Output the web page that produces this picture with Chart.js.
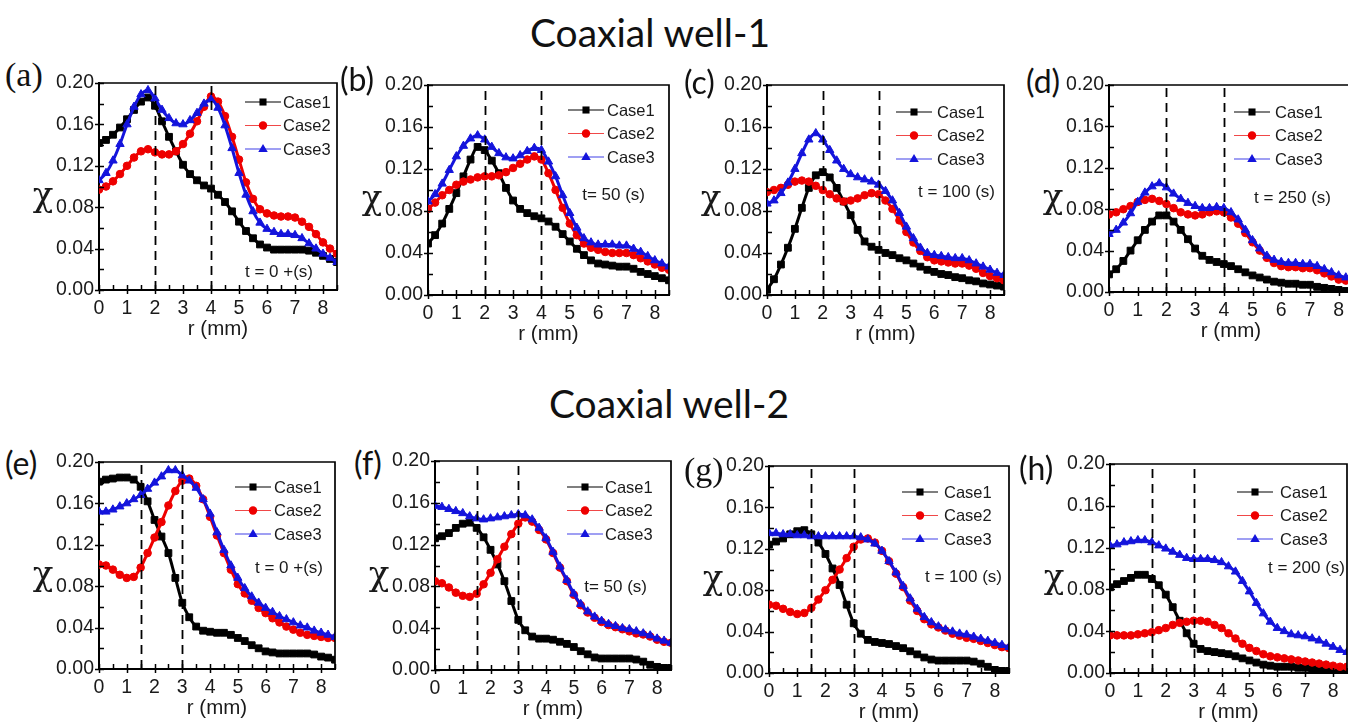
<!DOCTYPE html>
<html>
<head>
<meta charset="utf-8">
<title>Coaxial well profiles</title>
<script src="https://cdn.jsdelivr.net/npm/chart.js@4.4.0/dist/chart.umd.min.js"></script>
<style>
  body { margin: 0; width: 1348px; height: 726px; overflow: hidden; background: #fff; position: relative; }
  .title { position: absolute; font-family: Lato, "Open Sans", sans-serif; font-size: 39px; color: #111; transform: translate(-50%, -50%); white-space: nowrap; }
  .tag { position: absolute; font-family: Lato, "Open Sans", sans-serif; font-size: 32px; color: #111; transform: translateY(-50%); white-space: nowrap; }
  .tag.serif { font-family: "Liberation Serif", serif; font-size: 34px; }
  canvas { position: absolute; }
</style>
</head>
<body>
<div class="title" style="left:650px;top:32px">Coaxial well-1</div>
<div class="title" style="left:669px;top:403px">Coaxial well-2</div>

<script>
// radial positions (mm), shared by every panel
const r = [0, 0.25, 0.5, 0.75, 1, 1.25, 1.5, 1.75, 2, 2.25, 2.5, 2.75, 3, 3.25, 3.5, 3.75, 4, 4.25,
           4.5, 4.75, 5, 5.25, 5.5, 5.75, 6, 6.25, 6.5, 6.75, 7, 7.25, 7.5, 7.75, 8, 8.25, 8.5];
const caseNames = ['Case1', 'Case2', 'Case3'];
const yTicks = [0, 0.04, 0.08, 0.12, 0.16, 0.20];
const well1Walls = [2, 4];
const well2Walls = [1.5, 3];

// Coaxial well-1
const aCase1 = [.142,.145,.150,.157,.165,.174,.182,.186,.178,.163,.148,.134,.121,.112,.106,.101,.098,.092,.085,.076,.066,.057,.050,.044,.041,.039,.039,.039,.039,.039,.038,.036,.033,.030,.027];
const aCase2 = [.097,.100,.105,.112,.120,.128,.134,.136,.133,.131,.131,.134,.141,.151,.163,.177,.187,.182,.168,.148,.126,.104,.088,.078,.074,.072,.071,.071,.070,.066,.061,.054,.046,.040,.035];
const aCase3 = [.106,.113,.125,.141,.160,.177,.189,.193,.185,.174,.166,.161,.160,.164,.171,.180,.184,.176,.159,.137,.113,.092,.076,.065,.059,.056,.054,.054,.053,.050,.045,.040,.035,.031,.027];

const bCase1 = [.049,.057,.068,.082,.097,.113,.129,.141,.138,.128,.116,.102,.090,.082,.078,.075,.073,.070,.065,.058,.051,.044,.038,.033,.030,.029,.028,.027,.027,.025,.022,.020,.018,.016,.014];
const bCase2 = [.082,.088,.095,.100,.105,.108,.110,.112,.113,.113,.114,.117,.121,.125,.129,.132,.129,.116,.100,.083,.068,.057,.049,.045,.043,.041,.040,.040,.040,.038,.035,.032,.029,.026,.024];
const bCase3 = [.089,.096,.106,.119,.132,.142,.149,.152,.148,.141,.135,.131,.130,.133,.137,.140,.138,.127,.113,.095,.078,.064,.054,.050,.048,.048,.048,.047,.047,.044,.041,.037,.033,.030,.027];

const cCase1 = [.005,.015,.029,.045,.063,.083,.102,.114,.117,.112,.102,.089,.076,.062,.051,.046,.043,.040,.038,.035,.033,.030,.027,.024,.022,.020,.019,.017,.016,.014,.013,.011,.010,.009,.008];
const cCase2 = [.098,.100,.102,.105,.108,.109,.108,.104,.100,.096,.092,.089,.090,.092,.095,.097,.096,.090,.082,.071,.060,.050,.042,.036,.033,.032,.031,.030,.030,.028,.025,.021,.018,.016,.014];
const cCase3 = [.087,.090,.097,.107,.120,.135,.148,.154,.148,.138,.128,.120,.115,.112,.110,.108,.105,.099,.090,.078,.065,.054,.045,.040,.038,.037,.036,.035,.035,.033,.030,.027,.024,.021,.019];

const dCase1 = [.017,.022,.030,.040,.050,.060,.068,.074,.074,.068,.060,.051,.042,.035,.031,.029,.027,.025,.022,.019,.016,.014,.012,.010,.009,.008,.008,.007,.007,.005,.004,.003,.002,.001,.001];
const dCase2 = [.075,.077,.080,.083,.087,.089,.090,.088,.085,.081,.077,.075,.074,.075,.077,.078,.077,.072,.066,.057,.048,.040,.033,.028,.025,.024,.024,.023,.023,.021,.018,.015,.012,.011,.010];
const dCase3 = [.056,.060,.067,.076,.087,.096,.102,.105,.101,.095,.090,.086,.083,.081,.081,.082,.081,.077,.070,.060,.050,.042,.035,.031,.029,.028,.028,.027,.027,.025,.022,.019,.016,.014,.012];

// Coaxial well-2
const eCase1 = [.181,.183,.184,.185,.185,.183,.176,.162,.144,.128,.112,.088,.064,.050,.041,.037,.036,.035,.035,.033,.030,.027,.023,.020,.017,.016,.015,.015,.015,.015,.015,.014,.012,.011,.009];
const eCase2 = [.101,.100,.096,.091,.088,.089,.098,.112,.127,.142,.158,.172,.182,.184,.177,.164,.147,.129,.112,.096,.082,.073,.066,.059,.054,.049,.045,.041,.038,.035,.033,.032,.031,.030,.030];
const eCase3 = [.152,.152,.154,.157,.160,.164,.168,.174,.180,.186,.192,.192,.187,.182,.175,.164,.150,.132,.115,.100,.088,.078,.070,.064,.059,.055,.051,.048,.045,.042,.040,.037,.035,.033,.031];

const fCase1 = [.126,.128,.131,.136,.140,.141,.136,.127,.115,.101,.085,.066,.048,.038,.032,.030,.030,.029,.027,.025,.022,.018,.015,.012,.011,.011,.011,.011,.011,.010,.008,.005,.003,.002,.002];
const fCase2 = [.085,.083,.079,.074,.071,.070,.073,.082,.093,.106,.118,.130,.140,.146,.142,.134,.125,.112,.098,.085,.072,.062,.055,.050,.046,.043,.041,.039,.037,.035,.034,.032,.029,.027,.026];
const fCase3 = [.157,.156,.154,.152,.150,.147,.145,.144,.145,.146,.147,.148,.149,.148,.144,.136,.126,.113,.099,.086,.073,.063,.056,.051,.047,.044,.042,.040,.039,.037,.035,.033,.030,.028,.026];

const gCase1 = [.124,.127,.130,.134,.137,.138,.134,.126,.115,.101,.085,.066,.048,.038,.032,.030,.029,.028,.026,.024,.021,.018,.015,.013,.012,.012,.012,.012,.012,.011,.009,.006,.003,.002,.002];
const gCase2 = [.066,.065,.062,.059,.057,.058,.063,.071,.080,.090,.100,.111,.122,.129,.130,.126,.118,.108,.096,.083,.070,.060,.052,.047,.044,.041,.038,.036,.034,.033,.031,.029,.027,.025,.024];
const gCase3 = [.135,.135,.134,.134,.133,.133,.132,.132,.132,.132,.132,.132,.132,.131,.129,.125,.118,.108,.097,.084,.072,.062,.054,.049,.045,.042,.040,.038,.037,.035,.033,.031,.029,.027,.025];

const hCase1 = [.082,.085,.088,.091,.094,.094,.090,.084,.075,.063,.050,.038,.028,.023,.021,.020,.019,.018,.016,.014,.012,.010,.008,.007,.006,.006,.006,.005,.005,.004,.003,.002,.001,.000,.000];
const hCase2 = [.036,.036,.036,.036,.037,.038,.039,.041,.043,.046,.048,.049,.050,.050,.049,.046,.043,.038,.033,.028,.024,.021,.018,.016,.015,.014,.013,.012,.011,.010,.009,.008,.007,.006,.006];
const hCase3 = [.122,.123,.125,.126,.127,.127,.125,.122,.119,.116,.113,.110,.109,.109,.109,.108,.106,.102,.097,.088,.078,.067,.057,.049,.043,.040,.037,.036,.035,.033,.031,.028,.025,.022,.020];

const caseStyles = [
  { color: '#000000', legendLine: '#000000', marker: 'rect', radius: 4.8, legendRadius: 5 },
  { color: '#ee0000', legendLine: '#f04848', marker: 'circle', radius: 3.8, legendRadius: 4.2 },
  { color: '#1414dc', legendLine: '#4040e8', marker: 'triangle', radius: 4.8, legendRadius: 5 }
];

// box = plot area [left, top, right, bottom]; legend = [line start from right, text from right, first row from top]
const panels = [
  { tag: '(a)', serif: true, tagAt: [5, 75], box: [99, 83, 337, 290], walls: well1Walls, series: [aCase1, aCase2, aCase3], time: 't = 0 +(s)', timeAt: [24, 189], legend: [92, 54, 19] },
  { tag: '(b)', tagAt: [340, 78], box: [428, 85, 669, 295], walls: well1Walls, series: [bCase1, bCase2, bCase3], time: 't= 50 (s)', timeAt: [24, 110], legend: [101, 62, 25] },
  { tag: '(c)', tagAt: [684, 81], box: [767, 85, 1004, 295], walls: well1Walls, series: [cCase1, cCase2, cCase3], time: 't = 100 (s)', timeAt: [9, 107], legend: [108, 67, 27] },
  { tag: '(d)', tagAt: [1026, 80], box: [1109, 85, 1353, 292], walls: well1Walls, series: [dCase1, dCase2, dCase3], time: 't = 250 (s)', timeAt: [22, 113], legend: [119, 78, 27] },
  { tag: '(e)', tagAt: [5, 462], box: [99, 462, 335, 669], walls: well2Walls, series: [eCase1, eCase2, eCase3], time: 't = 0 +(s)', timeAt: [12, 106], legend: [100, 61, 25] },
  { tag: '(f)', tagAt: [354, 462], box: [435, 461, 671, 670], walls: well2Walls, series: [fCase1, fCase2, fCase3], time: 't= 50 (s)', timeAt: [24, 126], legend: [104, 66, 26] },
  { tag: '(g)', serif: true, tagAt: [684, 470], box: [769, 466, 1009, 673], walls: well2Walls, series: [gCase1, gCase2, gCase3], time: 't = 100 (s)', timeAt: [7, 111], legend: [107, 65, 26] },
  { tag: '(h)', tagAt: [1019, 467], box: [1110, 464, 1347, 673], walls: well2Walls, series: [hCase1, hCase2, hCase3], time: 't = 200 (s)', timeAt: [2, 104], legend: [110, 67, 28] }
];

function marker(ctx, style, x, y, rad) {
  ctx.beginPath();
  if (style === 'rect') {
    const s = rad * Math.SQRT1_2;
    ctx.rect(x - s, y - s, 2 * s, 2 * s);
  } else if (style === 'circle') {
    ctx.arc(x, y, rad, 0, Math.PI * 2);
  } else {
    ctx.moveTo(x, y - rad);
    ctx.lineTo(x + rad * 0.95, y + rad * 0.6);
    ctx.lineTo(x - rad * 0.95, y + rad * 0.6);
    ctx.closePath();
  }
  ctx.fill();
}

// frame, tick marks, well walls, legend, time stamp and χ label
const decor = {
  id: 'decor',
  afterDatasetsDraw(chart, args, opts) {
    const { ctx, chartArea: ca, scales: { x, y } } = chart;
    ctx.save();
    ctx.strokeStyle = '#000';

    // major ticks straddle the axis, minor ones point inwards
    ctx.lineWidth = 1.5;
    ctx.beginPath();
    x.ticks.forEach(t => {
      const px = Math.round(x.getPixelForValue(t.value)) + 0.5;
      const major = Number.isInteger(t.value);
      ctx.moveTo(px, ca.bottom + (major ? 4 : 0));
      ctx.lineTo(px, ca.bottom - 5);
    });
    y.ticks.forEach((t, i) => {
      const py = Math.round(y.getPixelForValue(t.value)) + 0.5;
      ctx.moveTo(ca.left - (i % 2 === 0 ? 4 : 0), py);
      ctx.lineTo(ca.left + 5, py);
    });
    ctx.stroke();

    ctx.lineWidth = 1.8;
    ctx.setLineDash([9, 6]);
    opts.walls.forEach(w => {
      const px = Math.round(x.getPixelForValue(w)) + 0.5;
      ctx.beginPath();
      ctx.moveTo(px, ca.bottom);
      ctx.lineTo(px, ca.top);
      ctx.stroke();
    });
    ctx.setLineDash([]);
    ctx.lineWidth = 1.7;
    ctx.beginPath();
    ctx.moveTo(ca.left, ca.top);
    ctx.lineTo(ca.right, ca.top);
    ctx.lineTo(ca.right, ca.bottom);
    ctx.stroke();

    const [lineFrom, textFrom, rowTop] = opts.legend;
    ctx.font = '16.5px "Liberation Sans", Arial, sans-serif';
    ctx.textBaseline = 'middle';
    ctx.textAlign = 'left';
    caseNames.forEach((name, i) => {
      const st = caseStyles[i];
      const yy = ca.top + rowTop + i * 23.5;
      const x0 = ca.right - lineFrom, x1 = x0 + 36;
      ctx.strokeStyle = st.legendLine;
      ctx.lineWidth = 1.2;
      ctx.beginPath();
      ctx.moveTo(x0, yy);
      ctx.lineTo(x1, yy);
      ctx.stroke();
      ctx.fillStyle = st.color;
      marker(ctx, st.marker, (x0 + x1) / 2, yy, st.legendRadius);
      ctx.fillStyle = '#1a1a1a';
      ctx.fillText(name, ca.right - textFrom, yy + 1);
    });

    ctx.font = '17px "Liberation Sans", Arial, sans-serif';
    ctx.textAlign = 'right';
    ctx.fillStyle = '#1a1a1a';
    ctx.fillText(opts.time, ca.right - opts.timeAt[0], ca.top + opts.timeAt[1]);

    ctx.font = '34px "DejaVu Serif", serif';
    ctx.textAlign = 'center';
    ctx.fillText('χ', ca.left - 56, ca.top + 0.55 * (ca.bottom - ca.top));
    ctx.restore();
  }
};

const padL = 72, padT = 18, padR = 14, padB = 60;
const tickFont = { family: '"Liberation Sans", Arial, sans-serif', size: 19.5 };

panels.forEach(p => {
  const [left, top, right, bottom] = p.box;

  const tag = document.createElement('div');
  tag.className = 'tag' + (p.serif ? ' serif' : '');
  tag.style.left = p.tagAt[0] + 'px';
  tag.style.top = p.tagAt[1] + 'px';
  tag.textContent = p.tag;
  document.body.appendChild(tag);

  const cv = document.createElement('canvas');
  cv.width = right - left + padL + padR;
  cv.height = bottom - top + padT + padB;
  cv.style.left = (left - padL) + 'px';
  cv.style.top = (top - padT) + 'px';
  document.body.appendChild(cv);

  const datasets = p.series.map((vals, i) => ({
    label: caseNames[i],
    data: r.map((rv, k) => ({ x: rv, y: vals[k] })),
    borderColor: caseStyles[i].color,
    backgroundColor: caseStyles[i].color,
    borderWidth: 3,
    pointStyle: caseStyles[i].marker,
    pointRadius: caseStyles[i].radius,
    pointBorderWidth: 1,
    pointBorderColor: caseStyles[i].color,
    cubicInterpolationMode: 'monotone',
    order: 3 - i
  }));

  new Chart(cv, {
    type: 'line',
    data: { datasets },
    options: {
      responsive: false,
      animation: false,
      devicePixelRatio: 1,
      layout: { padding: { left: 0, top: padT, right: padR, bottom: 0 } },
      plugins: {
        legend: { display: false },
        tooltip: { enabled: false },
        decor: { walls: p.walls, legend: p.legend, time: p.time, timeAt: p.timeAt }
      },
      scales: {
        x: {
          type: 'linear',
          min: 0,
          max: 8.5,
          afterFit: s => { s.height = padB; },
          ticks: {
            stepSize: 0.5,
            autoSkip: false,
            maxRotation: 0,
            padding: 7,
            color: '#1a1a1a',
            font: tickFont,
            callback: v => Number.isInteger(v) ? String(v) : ''
          },
          grid: { drawOnChartArea: false, drawTicks: false },
          border: { color: '#000', width: 2 },
          title: { display: true, text: 'r (mm)', color: '#1a1a1a', font: { family: tickFont.family, size: 20.5 }, padding: { top: 0, bottom: 8 } }
        },
        y: {
          min: 0,
          max: 0.2,
          afterFit: s => { s.width = padL; },
          ticks: {
            stepSize: 0.02,
            autoSkip: false,
            padding: 5,
            color: '#1a1a1a',
            font: tickFont,
            callback: (v, i) => i % 2 === 0 ? yTicks[i / 2].toFixed(2) : ''
          },
          grid: { drawOnChartArea: false, drawTicks: false },
          border: { color: '#000', width: 2 }
        }
      }
    },
    plugins: [decor]
  });
});
</script>
</body>
</html>
